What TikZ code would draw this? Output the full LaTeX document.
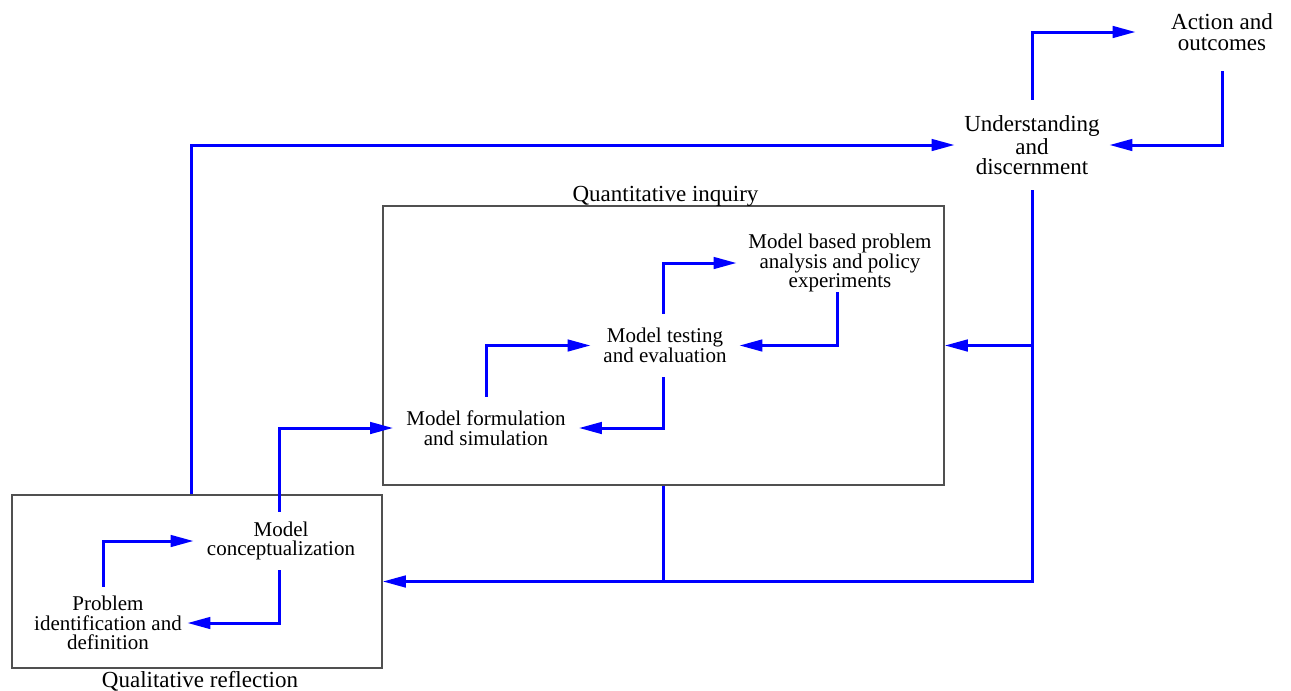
\documentclass[tikz,border=0pt]{standalone}
\usepackage{fontspec}
\setmainfont{Liberation Serif}
\usetikzlibrary{arrows.meta,calc}
\definecolor{flowblue}{RGB}{0,0,255}
\definecolor{framegray}{RGB}{80,80,80}
\begin{document}
\begin{tikzpicture}[x=0.5pt,y=-0.5pt,
  flow/.style={draw=flowblue,line width=1.5pt,-{Triangle[length=11.5pt,width=5.75pt]}},
  link/.style={draw=flowblue,line width=1.5pt},
  stage/.style={align=center,inner sep=0pt,font=\fontsize{10.5}{9.75}\selectfont},
  keystage/.style={align=center,inner sep=0pt,font=\fontsize{11.5}{10.25}\selectfont},
  frame/.style={draw=framegray,line width=0.75pt,inner sep=0pt},
  title/.style={inner sep=0pt,font=\fontsize{11.5}{12}\selectfont}]
\useasboundingbox (0,0) rectangle (1291,691);

% the two enclosing phases
\node[frame,minimum width=280.5pt,minimum height=139.5pt] (quant) at (663.5,345.5) {};
\node[frame,minimum width=185pt,minimum height=86.5pt] (qual) at (197,581.5) {};
\node[title] (quantlabel) at ($(quant.north)+(2,-9)$) {Quantitative inquiry};
\node[title] (quallabel) at ($(qual.south)+(3,13)$) {Qualitative reflection};

% stages
\node[keystage,minimum width=86pt,minimum height=39pt] (act) at (1222,32) {Action and\\outcomes};
\node[keystage,minimum width=77pt,minimum height=45pt] (und) at (1032,145) {Understanding\\and\\discernment};
\node[stage,minimum width=103pt,minimum height=29pt] (mbpa) at (840,263) {Model based problem\\analysis and policy\\experiments};
\node[stage,minimum width=74pt,minimum height=31.5pt] (mte) at (665,345.5) {Model testing\\and evaluation};
\node[stage,minimum width=92.5pt,minimum height=31pt] (mfs) at (486,428) {Model formulation\\and simulation};
\node[stage,minimum width=87pt,minimum height=29pt] (mc) at (281,541) {Model\\conceptualization};
\node[stage,minimum width=79pt,minimum height=36pt] (pid) at (108,623) {Problem\\identification and\\definition};

% outer loop
\draw[flow] (und.north) |- (act.west);
\draw[flow] (act.south) |- (und.east);
\draw[flow] ($(qual.north)+(-6,0)$) |- (und.west);
\draw[link] ($(mbpa.north)+(-3,0)$) -- ($(mbpa.north)+(-3,0)$ |- und.west);
\draw[flow] (und.south) |- (qual.east);
\draw[flow] (und.south |- quant.east) -- (quant.east);
\draw[link] (quant.south) -- (quant.south |- qual.east);

% quantitative inquiry steps
\draw[flow] ($(mc.north)+(-2,0)$) |- (mfs.west);
\draw[flow] (mfs.north) |- (mte.west);
\draw[flow] ($(mte.north)+(-2,0)$) |- (mbpa.west);
\draw[flow] ($(mbpa.south)+(-3,0)$) |- (mte.east);
\draw[flow] ($(mte.south)+(-2,0)$) |- (mfs.east);

% qualitative reflection steps
\draw[flow] ($(pid.north)+(-5,0)$) |- (mc.west);
\draw[flow] ($(mc.south)+(-2,0)$) |- (pid.east);
\end{tikzpicture}
\end{document}
